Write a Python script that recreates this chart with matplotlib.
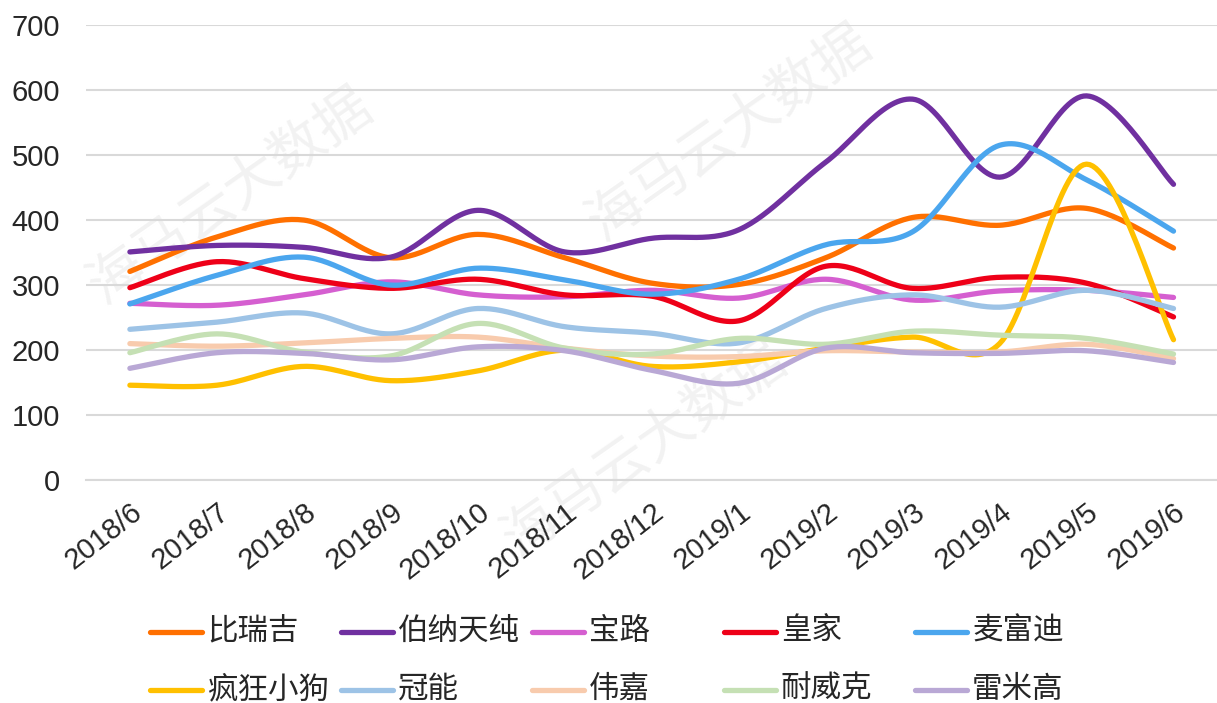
import numpy as np
import matplotlib.pyplot as plt
from matplotlib.lines import Line2D

plt.rcParams['font.family'] = ['Liberation Sans', 'Noto Sans CJK SC', 'DejaVu Sans']

months = ["2018/6", "2018/7", "2018/8", "2018/9", "2018/10", "2018/11", "2018/12",
          "2019/1", "2019/2", "2019/3", "2019/4", "2019/5", "2019/6"]

biruiji   = [321, 374, 400, 342, 378, 342, 303, 301, 342, 404, 392, 418, 357]
bonatc    = [351, 361, 358, 343, 415, 351, 372, 385, 489, 586, 466, 591, 455]
baolu     = [272, 269, 285, 305, 285, 282, 292, 280, 309, 277, 291, 292, 281]
huangjia  = [296, 336, 310, 295, 309, 285, 283, 245, 329, 295, 312, 303, 251]
maifudi   = [271, 315, 343, 300, 326, 308, 286, 309, 362, 382, 515, 462, 383]
fkxg      = [146, 146, 175, 153, 168, 200, 175, 182, 203, 220, 210, 486, 216]
guanneng  = [232, 243, 257, 225, 264, 236, 226, 211, 264, 285, 266, 292, 264]
weijia    = [210, 206, 211, 218, 220, 203, 191, 190, 199, 197, 197, 209, 187]
naiweike  = [196, 225, 197, 191, 241, 203, 194, 218, 209, 229, 223, 218, 194]
leimigao  = [172, 196, 195, 185, 205, 199, 169, 149, 203, 196, 195, 199, 181]

names = ["比瑞吉", "伯纳天纯", "宝路", "皇家", "麦富迪",
         "疯狂小狗", "冠能", "伟嘉", "耐威克", "雷米高"]
series = [biruiji, bonatc, baolu, huangjia, maifudi,
          fkxg, guanneng, weijia, naiweike, leimigao]
colors = ["#FF7000", "#7030A0", "#D55FD0", "#EE0018", "#4BA6EE",
          "#FFC000", "#9DC3E6", "#F8CBAD", "#C5E0B4", "#B9A8D5"]


def smooth(y, n=30):
    # excel-like smoothed line: bezier segments with catmull-rom controls
    y = np.asarray(y, float)
    x = np.arange(len(y), dtype=float)
    xs, ys = [], []
    for i in range(len(y) - 1):
        i0 = max(i - 1, 0)
        i3 = min(i + 2, len(y) - 1)
        p0 = np.array([x[i], y[i]])
        p3 = np.array([x[i + 1], y[i + 1]])
        c1 = p0 + (p3 - np.array([x[i0], y[i0]])) / 6
        c2 = p3 - (np.array([x[i3], y[i3]]) - p0) / 6
        t = np.linspace(0, 1, n)[:, None]
        pts = ((1 - t) ** 3) * p0 + 3 * ((1 - t) ** 2) * t * c1 + 3 * (1 - t) * t ** 2 * c2 + t ** 3 * p3
        xs.extend(pts[:, 0])
        ys.extend(pts[:, 1])
    return np.array(xs), np.array(ys)


fig = plt.figure(figsize=(12.17, 7.03), dpi=100)
ax = fig.add_axes([0.071, 0.317, 0.929, 0.6474])
ax.patch.set_alpha(0)

# faint watermark behind everything
wm = dict(color='#f2f2f2', fontsize=40, rotation=35, ha='center', va='center', zorder=-1)
fig.text(0.19, 0.72, "海马云大数据", **wm)
fig.text(0.53, 0.36, "海马云大数据", **wm)
fig.text(0.60, 0.81, "海马云大数据", **wm)

for y, c in zip(series, colors):
    xs, ys = smooth(y)
    ax.plot(xs, ys, color=c, lw=3.8, solid_capstyle='round', zorder=3)

ax.set_xlim(-0.5, len(months) - 0.5)
ax.set_ylim(0, 700)
ax.set_yticks(range(0, 701, 100))
ax.yaxis.grid(True, color='#d9d9d9', lw=1.5)
ax.set_axisbelow(True)
for s in ['top', 'right', 'left']:
    ax.spines[s].set_visible(False)
ax.spines['bottom'].set_color('#d9d9d9')
ax.spines['bottom'].set_linewidth(1.5)
ax.tick_params(axis='both', length=0, labelsize=21, colors='#262626')
ax.tick_params(axis='y', pad=19)
ax.set_xticks(range(len(months)))
ax.set_xticklabels(months, rotation=38, ha='right', va='top', rotation_mode='anchor')
ax.tick_params(axis='x', pad=13)

# legend, two rows of five equal-width columns
col_x = [150, 341, 532, 724, 915]
row_y = [632, 690]
W, H = 1217, 703
for k, (nm, c) in enumerate(zip(names, colors)):
    cx = col_x[k % 5]
    ry = row_y[k // 5]
    fig.add_artist(Line2D([cx / W, (cx + 52) / W], [1 - ry / H, 1 - ry / H],
                          color=c, lw=3.8, solid_capstyle='round'))
    fig.text((cx + 57) / W, 1 - ry / H, nm, fontsize=22, va='center', ha='left',
             color='#262626')

fig.savefig("out.png", dpi=100)
